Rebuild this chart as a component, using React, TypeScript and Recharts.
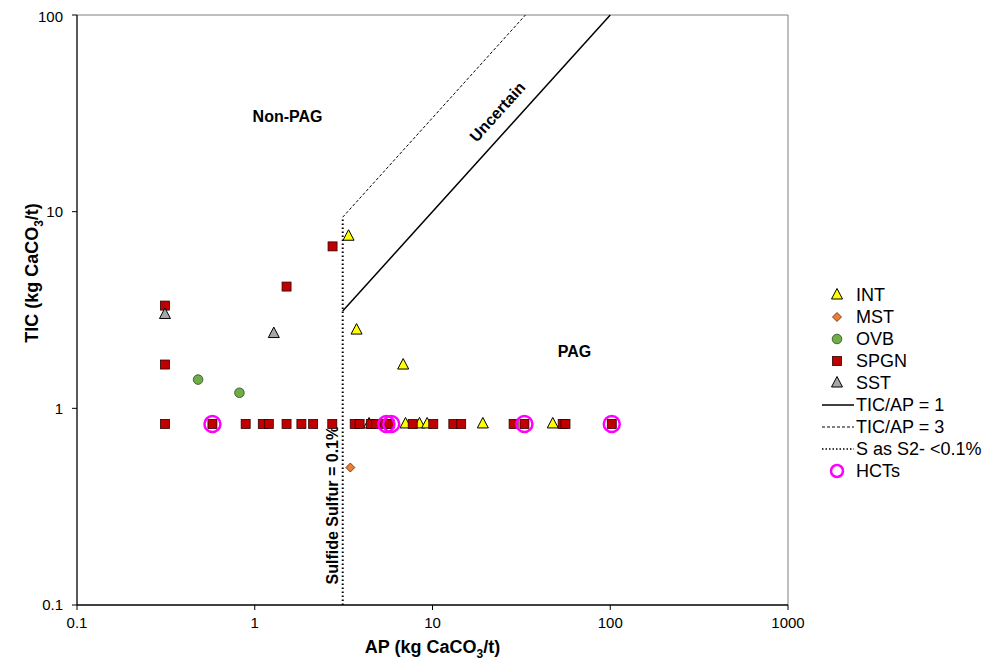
import React from "react";
import {
  ScatterChart,
  Scatter,
  XAxis,
  YAxis,
  ReferenceLine,
  ReferenceDot,
} from "recharts";

const FONT = "'Liberation Sans', Arial, sans-serif";

// AP vs TIC, kg CaCO3/t, per lithology
const intData = [
  { x: 3.37, y: 7.5 },
  { x: 3.74, y: 2.5 },
  { x: 6.84, y: 1.66 },
  { x: 4.4, y: 0.833 },
  { x: 7.05, y: 0.833 },
  { x: 8.45, y: 0.833 },
  { x: 9.33, y: 0.833 },
  { x: 19.2, y: 0.833 },
  { x: 47.5, y: 0.833 },
];
const mstData = [{ x: 3.45, y: 0.5 }];
const ovbData = [
  { x: 0.48, y: 1.4 },
  { x: 0.82, y: 1.2 },
];
const spgnX = [
  0.3125, 0.578, 0.889, 1.11, 1.2, 1.51, 1.83, 2.13, 2.73, 3.65, 3.89, 4.5,
  4.83, 5.37, 5.73, 7.74, 10.1, 13.1, 14.5, 28.6, 32.9, 54, 56, 102,
];
const spgnData = [
  { x: 0.3125, y: 3.33 },
  { x: 0.3125, y: 1.67 },
  { x: 1.51, y: 4.16 },
  { x: 2.74, y: 6.66 },
  ...spgnX.map((x) => ({ x, y: 0.833 })),
];
const sstData = [
  { x: 0.3125, y: 3.0 },
  { x: 1.28, y: 2.4 },
];
const hctData = [
  { x: 0.578, y: 0.833 },
  { x: 5.5, y: 0.833 },
  { x: 5.86, y: 0.833 },
  { x: 32.9, y: 0.833 },
  { x: 102, y: 0.833 },
];

// classification boundaries (S = 0.1% -> AP = 3.125)
const sLimit = 3.125;
const ratio1 = [
  { x: sLimit, y: sLimit },
  { x: 100, y: 100 },
];
const ratio3 = [
  { x: sLimit, y: sLimit * 3 },
  { x: 100 / 3, y: 100 },
];
const sulfideLine = [
  { x: sLimit, y: 0.1 },
  { x: sLimit, y: sLimit * 3 },
];

const xTicks = [0.1, 1, 10, 100, 1000];
const yTicks = [0.1, 1, 10, 100];

const legendItems = [
  { name: "INT", kind: "tri", fill: "#FFFF00", stroke: "#000" },
  { name: "MST", kind: "diamond", fill: "#ED7D31", stroke: "#5a2a08" },
  { name: "OVB", kind: "circle", fill: "#70AD47", stroke: "#2b4a1a" },
  { name: "SPGN", kind: "square", fill: "#C00000", stroke: "#300000" },
  { name: "SST", kind: "tri", fill: "#A6A6A6", stroke: "#000" },
  { name: "TIC/AP = 1", kind: "solid" },
  { name: "TIC/AP = 3", kind: "dashed" },
  { name: "S as S2- <0.1%", kind: "dotted" },
  { name: "HCTs", kind: "hct" },
];

const Marker = ({ kind, cx, cy, fill, stroke }: any) => {
  if (kind === "tri")
    return (
      <polygon
        points={`${cx},${cy - 6.5} ${cx - 5.5},${cy + 4} ${cx + 5.5},${cy + 4}`}
        fill={fill}
        stroke={stroke}
        strokeWidth={1}
      />
    );
  if (kind === "diamond")
    return (
      <polygon
        points={`${cx},${cy - 4.5} ${cx + 4.5},${cy} ${cx},${cy + 4.5} ${cx - 4.5},${cy}`}
        fill={fill}
        stroke={stroke}
        strokeWidth={0.8}
      />
    );
  if (kind === "circle")
    return <circle cx={cx} cy={cy} r={4.8} fill={fill} stroke={stroke} strokeWidth={0.8} />;
  if (kind === "square")
    return (
      <rect x={cx - 4.5} y={cy - 4.5} width={9} height={9} fill={fill} stroke={stroke} strokeWidth={0.8} />
    );
  if (kind === "hct")
    return <circle cx={cx} cy={cy} r={8} fill="none" stroke="#FF00FF" strokeWidth={2.5} />;
  return null;
};

const LegendBox = () => (
  <svg width={170} height={205} style={{ display: "block" }}>
    {legendItems.map((it, i) => {
      const cy = 11 + i * 22;
      let mark;
      if (it.kind === "solid")
        mark = <line x1={0} x2={32} y1={cy} y2={cy} stroke="#000" strokeWidth={1.5} />;
      else if (it.kind === "dashed")
        mark = <line x1={0} x2={32} y1={cy} y2={cy} stroke="#000" strokeDasharray="3 2" />;
      else if (it.kind === "dotted")
        mark = <line x1={0} x2={32} y1={cy} y2={cy} stroke="#000" strokeWidth={1.5} strokeDasharray="1.5 2" />;
      else if (it.kind === "hct") mark = <circle cx={15} cy={cy} r={6} fill="none" stroke="#FF00FF" strokeWidth={2.5} />;
      else mark = <Marker kind={it.kind} cx={15} cy={cy} fill={it.fill} stroke={it.stroke} />;
      return (
        <g key={it.name}>
          {mark}
          <text x={34} y={cy + 6} fontSize={18} fontFamily={FONT} fill="#000">
            {it.name}
          </text>
        </g>
      );
    })}
  </svg>
);

const XTitle = ({ viewBox }: any) => (
  <text x={viewBox.x + viewBox.width / 2} y={viewBox.y + 48} textAnchor="middle" fontFamily={FONT} fontWeight="bold" fontSize={18} fill="#000">
    <tspan>AP (kg CaCO</tspan>
    <tspan fontSize={12} dy={5}>3</tspan>
    <tspan dy={-5}>/t)</tspan>
  </text>
);

// axis title sits a little above the plot's middle
const YTitle = () => {
  const cx = 30;
  const cy = 265;
  return (
    <text x={cx} y={cy} transform={`rotate(-90 ${cx} ${cy})`} textAnchor="middle" fontFamily={FONT} fontWeight="bold" fontSize={18} fill="#000">
      <tspan>TIC (kg CaCO</tspan>
      <tspan fontSize={12} dy={5}>3</tspan>
      <tspan dy={-5}>/t)</tspan>
    </text>
  );
};

const areaText = (text: string, angle = 0) => (p: any) => (
  <text
    x={p.cx}
    y={p.cy}
    transform={angle ? `rotate(${angle} ${p.cx} ${p.cy})` : undefined}
    textAnchor="middle"
    dominantBaseline="central"
    fontFamily={FONT}
    fontWeight="bold"
    fontSize={16}
    fill="#000"
  >
    {text}
  </text>
);

const shapeOf = (kind: string, fill?: string, stroke?: string) => (p: any) => (
  <Marker kind={kind} cx={p.cx} cy={p.cy} fill={fill} stroke={stroke} />
);

export default function App() {
  return (
    <div style={{ position: "relative", width: 974, height: 653 }}>
      <ScatterChart width={974} height={653} margin={{ top: 7, right: 194, bottom: 26, left: 9 }}>
        <XAxis
          dataKey="x"
          type="number"
          scale="log"
          domain={[0.1, 1000]}
          ticks={xTicks}
          allowDataOverflow
          height={30}
          tickSize={5}
          tickMargin={7}
          axisLine={{ stroke: "#000", strokeWidth: 1.3 }}
          tickLine={{ stroke: "#000" }}
          tick={{ fill: "#000", fontSize: 15, fontFamily: FONT }}
          label={<XTitle />}
        />
        <YAxis
          dataKey="y"
          type="number"
          scale="log"
          domain={[0.1, 100]}
          ticks={yTicks}
          allowDataOverflow
          width={60}
          tickSize={5}
          tickMargin={9}
          axisLine={{ stroke: "#000", strokeWidth: 1.3 }}
          tickLine={{ stroke: "#000" }}
          tick={{ fill: "#000", fontSize: 15, fontFamily: FONT }}
          label={<YTitle />}
        />
        <ReferenceLine y={100} stroke="#808080" />
        <ReferenceLine x={1000} stroke="#808080" />
        <ReferenceLine segment={ratio1} stroke="#000" strokeWidth={1.5} />
        <ReferenceLine segment={ratio3} stroke="#000" strokeDasharray="3 2" />
        <ReferenceLine segment={sulfideLine} stroke="#000" strokeWidth={2} strokeDasharray="1.5 2.5" />
        <ReferenceDot x={1.53} y={30.3} r={0} shape={areaText("Non-PAG")} />
        <ReferenceDot x={63} y={1.95} r={0} shape={areaText("PAG")} />
        <ReferenceDot x={23.2} y={32.2} r={0} shape={areaText("Uncertain", -48)} />
        <ReferenceDot x={2.74} y={0.322} r={0} shape={areaText("Sulfide Sulfur = 0.1%", -90)} />
        <Scatter name="INT" data={intData} isAnimationActive={false} shape={shapeOf("tri", "#FFFF00", "#000")} />
        <Scatter name="MST" data={mstData} isAnimationActive={false} shape={shapeOf("diamond", "#ED7D31", "#5a2a08")} />
        <Scatter name="OVB" data={ovbData} isAnimationActive={false} shape={shapeOf("circle", "#70AD47", "#2b4a1a")} />
        <Scatter name="SPGN" data={spgnData} isAnimationActive={false} shape={shapeOf("square", "#C00000", "#300000")} />
        <Scatter name="SST" data={sstData} isAnimationActive={false} shape={shapeOf("tri", "#A6A6A6", "#000")} />
        <Scatter name="HCTs" data={hctData} isAnimationActive={false} shape={shapeOf("hct")} />
      </ScatterChart>
      <div style={{ position: "absolute", left: 814, top: 276 }}>
        <LegendBox />
      </div>
    </div>
  );
}
